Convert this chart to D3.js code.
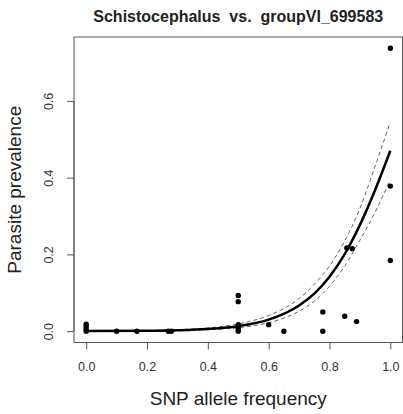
<!DOCTYPE html>
<html>
<head>
<meta charset="utf-8">
<script src="https://cdn.jsdelivr.net/npm/d3@7"></script>
<style>
    body { margin: 0; background: #fff; }
    svg { display: block; font-family: 'Liberation Sans', Arial, Helvetica, sans-serif; }
</style>
</head>
<body>
<svg id="chart" width="403" height="414"></svg>
<script>
    // observed points: SNP allele frequency vs parasite prevalence
    const freq = [0, 0, 0, 0, 0.1, 0.167, 0.27, 0.28,
        0.5, 0.5, 0.5, 0.5, 0.5, 0.5, 0.6, 0.65,
        0.778, 0.778, 0.85, 0.857, 0.875, 0.889, 1.0, 1.0, 1.0];
    const prev = [0, 0.005, 0.012, 0.018, 0, 0, 0, 0,
        0.093, 0.077, 0, 0.006, 0.012, 0.017, 0.017, 0,
        0.05, 0, 0.039, 0.217, 0.215, 0.025, 0.737, 0.378, 0.184];

    // fitted curve and confidence band
    const fitX = [0, 0.2, 0.3, 0.4, 0.5, 0.6, 0.7, 0.75, 0.8, 0.85, 0.9, 0.95, 1.0];
    const fitY = [0.0002, 0.0011, 0.0025, 0.0057, 0.013, 0.030, 0.067, 0.098, 0.142, 0.201, 0.277, 0.368, 0.470];
    const upperY = [0.0004, 0.0018, 0.004, 0.0085, 0.019, 0.041, 0.085, 0.122, 0.170, 0.235, 0.320, 0.43, 0.545];
    const lowerY = [0.0001, 0.0007, 0.0016, 0.0038, 0.009, 0.022, 0.052, 0.078, 0.117, 0.170, 0.237, 0.31, 0.395];

    const xTicks = [0, 0.2, 0.4, 0.6, 0.8, 1.0];
    const yTicks = [0, 0.2, 0.4, 0.6];

    const svg = d3.select("#chart");
    const box = { left: 74, right: 402.5, top: 37, bottom: 342.5 };

    // R style 4% padding on the data range
    const x = d3.scaleLinear().domain([-0.04, 1.04]).range([box.left, box.right]);
    const y = d3.scaleLinear().domain([-0.0295, 0.7665]).range([box.bottom, box.top]);

    const axisColor = "#555";
    const textColor = "#333";

    svg.append("rect")
        .attr("x", box.left).attr("y", box.top)
        .attr("width", box.right - box.left).attr("height", box.bottom - box.top)
        .attr("fill", "none").attr("stroke", axisColor).attr("stroke-width", 1);

    // x axis
    const xAxis = svg.append("g").attr("transform", `translate(0,${box.bottom})`)
        .call(d3.axisBottom(x).tickValues(xTicks).tickFormat(d3.format(".1f")).tickSize(7).tickPadding(13));
    xAxis.select(".domain")
        .attr("d", `M${x(0)},0H${x(1)}`).attr("stroke", axisColor);
    xAxis.selectAll(".tick line").attr("stroke", axisColor);
    xAxis.selectAll(".tick text").attr("fill", textColor).style("font-size", "12.5px");

    // y axis, labels rotated like R
    const yAxis = svg.append("g").attr("transform", `translate(${box.left},0)`)
        .call(d3.axisLeft(y).tickValues(yTicks).tickFormat(d3.format(".1f")).tickSize(7));
    yAxis.select(".domain")
        .attr("d", `M0,${y(0)}V${y(0.6)}`).attr("stroke", axisColor);
    yAxis.selectAll(".tick line").attr("stroke", axisColor);
    yAxis.selectAll(".tick text")
        .attr("fill", textColor).style("font-size", "12.5px")
        .attr("x", 0).attr("dy", 0)
        .attr("text-anchor", "middle")
        .attr("transform", "translate(-21,0) rotate(-90)");

    // dashed confidence band
    const bandLine = (vals) => d3.line()
        .x((d, i) => x(fitX[i]))
        .y((d) => y(d))
        .curve(d3.curveMonotoneX)(vals);

    [upperY, lowerY].forEach(vals => {
        svg.append("path")
            .attr("d", bandLine(vals))
            .attr("fill", "none").attr("stroke", "#666")
            .attr("stroke-width", 1).attr("stroke-dasharray", "4,3");
    });

    svg.append("path")
        .attr("d", bandLine(fitY))
        .attr("fill", "none").attr("stroke", "#000").attr("stroke-width", 2.5);

    svg.append("g").selectAll("circle")
        .data(freq)
        .join("circle")
        .attr("cx", d => x(d))
        .attr("cy", (d, i) => y(prev[i]))
        .attr("r", 2.7)
        .attr("fill", "#000");

    // titles
    svg.append("text")
        .attr("x", (box.left + box.right) / 2).attr("y", 22)
        .attr("text-anchor", "middle")
        .style("font-size", "16px").style("font-weight", "bold")
        .style("white-space", "pre")
        .attr("fill", "#222")
        .text("Schistocephalus  vs.  groupVI_699583");

    svg.append("text")
        .attr("x", (box.left + box.right) / 2).attr("y", 405)
        .attr("text-anchor", "middle")
        .style("font-size", "19px").attr("fill", "#222")
        .text("SNP allele frequency");

    svg.append("text")
        .attr("transform", `translate(21,${(box.top + box.bottom) / 2}) rotate(-90)`)
        .attr("text-anchor", "middle")
        .style("font-size", "19px").attr("fill", "#222")
        .text("Parasite prevalence");
</script>
</body>
</html>
